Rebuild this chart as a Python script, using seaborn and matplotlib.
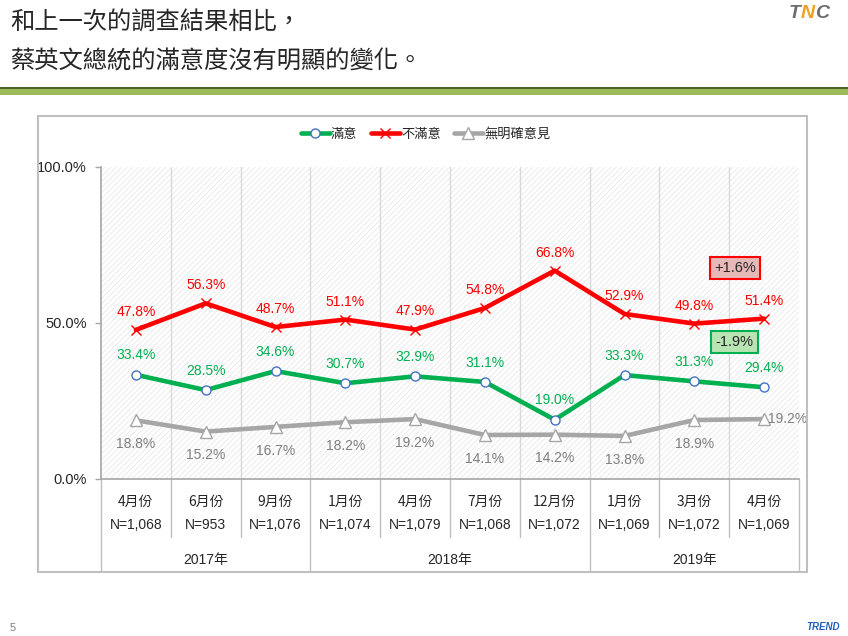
import matplotlib
matplotlib.use("Agg")
import matplotlib.pyplot as plt
from matplotlib.patches import Rectangle
import seaborn as sns

# data
months = ["4月份", "6月份", "9月份", "1月份", "4月份", "7月份", "12月份", "1月份", "3月份", "4月份"]
samples = ["N=1,068", "N=953", "N=1,076", "N=1,074", "N=1,079",
           "N=1,068", "N=1,072", "N=1,069", "N=1,072", "N=1,069"]
years = ["2017年", "2018年", "2019年"]
year_spans = [(0, 2), (3, 6), (7, 9)]
satisfied = [33.4, 28.5, 34.6, 30.7, 32.9, 31.1, 19.0, 33.3, 31.3, 29.4]
dissatisfied = [47.8, 56.3, 48.7, 51.1, 47.9, 54.8, 66.8, 52.9, 49.8, 51.4]
no_opinion = [18.8, 15.2, 16.7, 18.2, 19.2, 14.1, 14.2, 13.8, 18.9, 19.2]
series_names = ["滿意", "不滿意", "無明確意見"]

sns.set_style("white")
plt.rcParams["font.family"] = ["Liberation Sans", "Noto Sans CJK TC", "DejaVu Sans"]
plt.rcParams["hatch.linewidth"] = 0.5
plt.rcParams["hatch.color"] = "#E4E4E4"

W, H = 848, 636
fig = plt.figure(figsize=(W / 100, H / 100), dpi=100)

def fx(px):
    return px / W

def fy(py):
    return 1 - py / H

# header
fig.text(fx(10), fy(23), "和上一次的調查結果相比，", fontsize=17.5, weight="medium",
         family=["Noto Sans CJK TC"], va="center", ha="left")
fig.text(fx(10), fy(61), "蔡英文總統的滿意度沒有明顯的變化。", fontsize=17.5, weight="medium",
         family=["Noto Sans CJK TC"], va="center", ha="left")
fig.add_artist(Rectangle((0, fy(89)), 1, 2 / H, transform=fig.transFigure,
                         color="#4F6228", lw=0))
fig.add_artist(Rectangle((0, fy(95)), 1, 6 / H, transform=fig.transFigure,
                         color="#9BBB59", lw=0))
fig.text(fx(789), fy(14), "T", fontsize=14, style="italic", weight="bold",
         color="#6D6D6D", va="center")
fig.text(fx(801), fy(14), "N", fontsize=14, style="italic", weight="bold",
         color="#F0A020", va="center")
fig.text(fx(815), fy(14), "C", fontsize=14, style="italic", weight="bold",
         color="#6D6D6D", va="center")
fig.text(fx(10), fy(628), "5", fontsize=8, color="#7F7F7F", va="center")
fig.text(fx(806), fy(627), "TREND", fontsize=7, style="italic", weight="bold",
         color="#1F5FBF", va="center")

# outer chart frame
fig.add_artist(Rectangle((fx(38), fy(572)), fx(807) - fx(38), fy(116) - fy(572),
                         transform=fig.transFigure, fill=False,
                         edgecolor="#BFBFBF", lw=1.5))

ax = fig.add_axes([fx(101), fy(479), fx(799) - fx(101), fy(167) - fy(479)])
ax.set_xlim(-0.5, 9.5)
ax.set_ylim(0, 100)
ax.add_patch(Rectangle((-0.5, 0), 10, 100, facecolor="white", hatch="//////",
                       edgecolor="#E4E4E4", lw=0, zorder=0))
for b in range(1, 10):
    ax.axvline(b - 0.5, color="#D9D9D9", lw=1, zorder=1)

x = list(range(10))
sns.lineplot(x=x, y=satisfied, ax=ax, color="#00B050", lw=3.3, marker="o",
             markersize=6.5, markerfacecolor="white", markeredgecolor="#4472C4",
             markeredgewidth=1, label=series_names[0], zorder=4)
sns.lineplot(x=x, y=dissatisfied, ax=ax, color="#FF0000", lw=3.3, marker="x",
             markersize=7, markeredgecolor="#FF0000", markeredgewidth=1,
             label=series_names[1], zorder=4)
sns.lineplot(x=x, y=no_opinion, ax=ax, color="#A6A6A6", lw=3.3, marker="^",
             markersize=8, markerfacecolor="white", markeredgecolor="#A6A6A6",
             markeredgewidth=1, label=series_names[2], zorder=3)

for i in x:
    ax.annotate(f"{dissatisfied[i]:.1f}%", (i, dissatisfied[i]), xytext=(0, 13),
                textcoords="offset points", ha="center", va="center",
                fontsize=10, color="#FF0000")
    ax.annotate(f"{satisfied[i]:.1f}%", (i, satisfied[i]), xytext=(0, 14),
                textcoords="offset points", ha="center", va="center",
                fontsize=10, color="#00B050")
    if i == 9:
        ax.annotate(f"{no_opinion[i]:.1f}%", (i, no_opinion[i]), xytext=(3, 0),
                    textcoords="offset points", ha="left", va="center",
                    fontsize=10, color="#7F7F7F")
    else:
        ax.annotate(f"{no_opinion[i]:.1f}%", (i, no_opinion[i]), xytext=(0, -17),
                    textcoords="offset points", ha="center", va="center",
                    fontsize=10, color="#7F7F7F")

# change boxes
ax.text(8.58, 67.6, "+1.6%", ha="center", va="center", fontsize=10.5,
        bbox=dict(boxstyle="square,pad=0.3", facecolor="#E6B9B8",
                  edgecolor="#FF0000", lw=1.5))
ax.text(8.58, 43.9, "-1.9%", ha="center", va="center", fontsize=10.5,
        bbox=dict(boxstyle="square,pad=0.3", facecolor="#B9E4B4",
                  edgecolor="#00B050", lw=1.5))

# axes styling
ax.set_yticks([0, 50, 100])
ax.set_yticklabels(["0.0%", "50.0%", "100.0%"], fontsize=10.5)
ax.set_xticks([])
ax.tick_params(axis="y", length=4, width=1, color="#A6A6A6", pad=6, left=True)
for side in ["top", "right"]:
    ax.spines[side].set_visible(False)
ax.spines["left"].set_color("#A6A6A6")
ax.spines["bottom"].set_color("#A6A6A6")
ax.spines["left"].set_linewidth(1.2)
ax.spines["bottom"].set_linewidth(1.2)

leg = ax.legend(loc="center", bbox_to_anchor=(0.465, 1.105), ncol=3, frameon=False,
                fontsize=9.5, handlelength=2.2, columnspacing=1.0, handletextpad=0.1)

# table under the axis
tr = ax.get_xaxis_transform()
for i in x:
    ax.text(i, -0.074, months[i], transform=tr, ha="center", va="center",
            fontsize=10, family=["Noto Sans CJK TC"])
    ax.text(i, -0.147, samples[i], transform=tr, ha="center", va="center", fontsize=10)
year_edges = [s[0] - 0.5 for s in year_spans] + [9.5]
for b in range(1, 10):
    edge = b - 0.5
    bottom = -0.295 if edge in year_edges else -0.186
    ax.plot([edge, edge], [0, bottom], transform=tr, color="#BFBFBF", lw=1,
            clip_on=False)
for edge in [-0.5, 9.5]:
    ax.plot([edge, edge], [0, -0.295], transform=tr, color="#BFBFBF", lw=1,
            clip_on=False)
for name, (a, b) in zip(years, year_spans):
    ax.text((a + b) / 2, -0.26, name, transform=tr, ha="center", va="center",
            fontsize=10)

fig.savefig("out.png", dpi=100)
